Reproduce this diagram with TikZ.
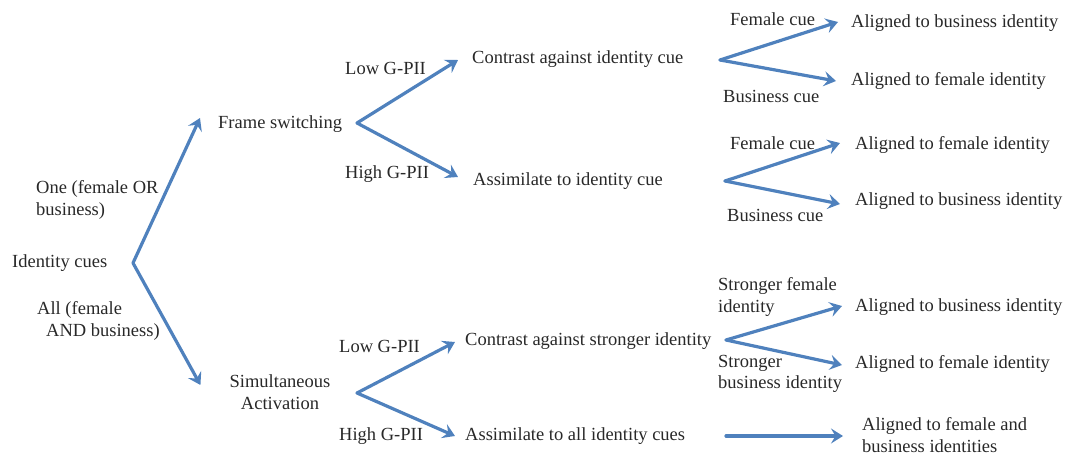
\documentclass[tikz,border=0pt]{standalone}
\usepackage{fontspec}
\setmainfont{Liberation Serif}
\usetikzlibrary{arrows.meta}
\definecolor{arrowblue}{RGB}{79,129,189}
\definecolor{txt}{RGB}{40,40,40}
\begin{document}
\begin{tikzpicture}[x=1pt,y=-1pt,
  lbl/.style={inner sep=0pt, anchor=west, text=txt, font=\fontsize{18.5}{21.5}\selectfont, align=left},
  arr/.style={draw=arrowblue, line width=3.2pt, line cap=round, -{Stealth[length=12pt,width=15pt,inset=4.5pt]}}]
\useasboundingbox (0,0) rectangle (1074,457);

% text nodes
\node[lbl] (idc) at (12,263) {Identity cues};
\node[lbl] (one) at (36,200) {One (female OR\\business)};
\node[lbl] (all) at (37,321) {All (female\\\hspace*{9pt}AND business)};
\node[lbl] (fs) at (218,124) {Frame switching};
\node[lbl, anchor=center, align=center] (sa) at (280,392) {Simultaneous\\Activation};
\node[lbl] (low1) at (345,68) {Low G-PII};
\node[lbl] (high1) at (345,174) {High G-PII};
\node[lbl] (c1) at (472,59) {Contrast against identity cue};
\node[lbl] (a1) at (473,181) {Assimilate to identity cue};
\node[lbl] (fc1) at (730,19) {Female cue};
\node[lbl] (bc1) at (723,96) {Business cue};
\node[lbl] (r1) at (851,23) {Aligned to business identity};
\node[lbl] (r2) at (851,81) {Aligned to female identity};
\node[lbl] (fc2) at (730,143) {Female cue};
\node[lbl] (bc2) at (727,215) {Business cue};
\node[lbl] (r3) at (855,145) {Aligned to female identity};
\node[lbl] (r4) at (855,201) {Aligned to business identity};
\node[lbl] (low2) at (339,346) {Low G-PII};
\node[lbl] (high2) at (339,436) {High G-PII};
\node[lbl] (c2) at (465,341) {Contrast against stronger identity};
\node[lbl] (a2) at (465,436) {Assimilate to all identity cues};
\node[lbl] (sf) at (718,297) {Stronger female\\identity};
\node[lbl] (sb) at (718,374) {Stronger\\business identity};
\node[lbl] (r5) at (855,307) {Aligned to business identity};
\node[lbl] (r6) at (855,364) {Aligned to female identity};
\node[lbl] (r7) at (862,435) {Aligned to female and\\business identities};

% fork points
\coordinate (k0) at (133,263);
\coordinate (k1) at (357,123);
\coordinate (k2) at (357,393);
\coordinate (k3) at (720,60);
\coordinate (k4) at (725,181);
\coordinate (k5) at (726,340);
\coordinate (k6) at (726,436);

% arrows
\draw[arr] (k0) -- ([shift={(-18,-6)}]fs.west);
\draw[arr] (k0) -- ([shift={(-29,-7)}]sa.west);
\draw[arr] (k1) -- ([shift={(-14,1)}]c1.west);
\draw[arr] (k1) -- ([shift={(-15,-4)}]a1.west);
\draw[arr] (k2) -- ([shift={(-10,1)}]c2.west);
\draw[arr] (k2) -- ([shift={(-10,0)}]a2.west);
\draw[arr] (k3) -- ([shift={(-13,-1)}]r1.west);
\draw[arr] (k3) -- ([shift={(-15,0)}]r2.west);
\draw[arr] (k4) -- ([shift={(-15,-2)}]r3.west);
\draw[arr] (k4) -- ([shift={(-15,3)}]r4.west);
\draw[arr] (k5) -- ([shift={(-13,-1)}]r5.west);
\draw[arr] (k5) -- ([shift={(-13,1)}]r6.west);
\draw[arr] (k6) -- ([shift={(-19,1)}]r7.west);
\end{tikzpicture}
\end{document}
